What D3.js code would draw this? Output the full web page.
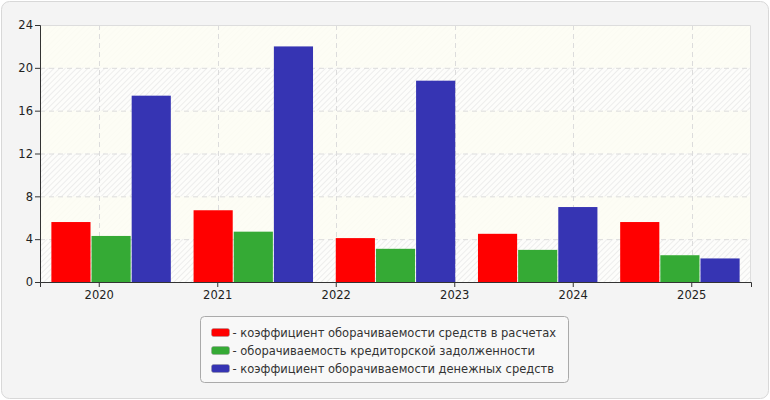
<!DOCTYPE html>
<html>
<head>
<meta charset="utf-8">
<script src="https://cdn.jsdelivr.net/npm/d3@7"></script>
<style>
  body { margin: 0; background: #fff; }
  text { font-family: "DejaVu Sans", Verdana, sans-serif; }
</style>
</head>
<body>
<div id="chart"></div>
<script>
// axis labels (6) and bar groups (5) as they appear in the picture
var years = ["2020", "2021", "2022", "2023", "2024", "2025"];
var groups = ["g1", "g2", "g3", "g4", "g5"];
var seriesNames = [
  "- коэффициент оборачиваемости средств в расчетах",
  "- оборачиваемость кредиторской задолженности",
  "- коэффициент оборачиваемости денежных средств"
];
var seriesColors = ["#ff0000", "#35aa35", "#3634b3"];
var receivables = [5.6, 6.7, 4.1, 4.5, 5.6];
var payables = [4.3, 4.7, 3.1, 3.0, 2.5];
var cash = [17.4, 22.0, 18.8, 7.0, 2.2];
var yTicks = [0, 4, 8, 12, 16, 20, 24];

var series = [receivables, payables, cash];

var W = 770, H = 400;
var margin = {top: 25, right: 19, bottom: 118, left: 40},
    width = W - margin.left - margin.right,
    height = H - margin.top - margin.bottom;

var svg = d3.select("#chart").append("svg")
    .attr("width", W)
    .attr("height", H);

svg.append("rect")
    .attr("x", 1.5).attr("y", 1.5)
    .attr("width", W - 3).attr("height", H - 3)
    .attr("rx", 8)
    .style("fill", "#f4f4f4")
    .style("stroke", "#d8d8d8");

var defs = svg.append("defs");
var pat = defs.append("pattern")
    .attr("id", "hatch")
    .attr("patternUnits", "userSpaceOnUse")
    .attr("width", 4).attr("height", 4)
    .attr("patternTransform", "rotate(45)");
pat.append("rect").attr("width", 4).attr("height", 4).style("fill", "#fdfdfb");
pat.append("line")
    .attr("x1", 0).attr("y1", 0).attr("x2", 0).attr("y2", 4)
    .style("stroke", "#e8e8e8").style("stroke-width", 1.5);

var g = svg.append("g")
    .attr("transform", "translate(" + margin.left + "," + margin.top + ")");

var y = d3.scaleLinear().domain([0, 24]).range([height, 0]);
var xAxisScale = d3.scaleBand().domain(years).range([0, width]);
var x0 = d3.scaleBand().domain(groups).range([0, width])
    .paddingInner(0.16).paddingOuter(0.08);
var x1 = d3.scaleBand().domain([0, 1, 2]).range([0, x0.bandwidth()])
    .paddingInner(0.025);

// plot background: hatched, with alternate cream bands
g.append("rect")
    .attr("width", width).attr("height", height)
    .style("fill", "url(#hatch)");
g.selectAll(".band")
    .data([20, 12, 4])
  .enter().append("rect")
    .attr("class", "band")
    .attr("x", 0)
    .attr("y", function(d) { return y(d + 4); })
    .attr("width", width)
    .attr("height", function(d) { return y(d) - y(d + 4); })
    .style("fill", "#fdfdf3")
    .style("opacity", 0.85);

// grid
g.selectAll(".hgrid")
    .data(yTicks.filter(function(d) { return d > 0 && d < 24; }))
  .enter().append("line")
    .attr("x1", 0).attr("x2", width)
    .attr("y1", function(d) { return y(d) + 0.5; })
    .attr("y2", function(d) { return y(d) + 0.5; })
    .style("stroke", "#dcdcdc")
    .style("stroke-dasharray", "5,4");
g.selectAll(".vgrid")
    .data(years)
  .enter().append("line")
    .attr("x1", function(d) { return Math.round(xAxisScale(d) + xAxisScale.bandwidth() / 2) + 0.5; })
    .attr("x2", function(d) { return Math.round(xAxisScale(d) + xAxisScale.bandwidth() / 2) + 0.5; })
    .attr("y1", 0).attr("y2", height)
    .style("stroke", "#dcdcdc")
    .style("stroke-dasharray", "5,4");

g.append("path")
    .attr("d", "M0,0.5H" + (width - 0.5) + "V" + height)
    .style("fill", "none")
    .style("stroke", "#dddddd");

// bars
var grp = g.selectAll(".grp")
    .data(groups)
  .enter().append("g")
    .attr("class", "grp")
    .attr("transform", function(d) { return "translate(" + x0(d) + ",0)"; });

grp.selectAll("rect")
    .data(function(d, i) { return series.map(function(s, k) { return {k: k, v: s[i]}; }); })
  .enter().append("rect")
    .attr("x", function(d) { return x1(d.k); })
    .attr("y", function(d) { return y(d.v); })
    .attr("width", x1.bandwidth())
    .attr("height", function(d) { return y(0) - y(d.v); })
    .style("fill", function(d) { return seriesColors[d.k]; });

// axes
var yAxis = g.append("g")
    .call(d3.axisLeft(y).tickValues(yTicks).tickSizeOuter(0).tickSize(5));
var xAxis = g.append("g")
    .attr("transform", "translate(0," + height + ")")
    .call(d3.axisBottom(xAxisScale).tickSizeOuter(0).tickSize(5));

[yAxis, xAxis].forEach(function(a) {
  a.attr("font-family", null);
  a.select(".domain").style("stroke", "#333");
  a.selectAll(".tick line").style("stroke", "#333");
  a.selectAll("text")
      .style("font-size", "11.5px")
      .style("fill", "#222");
});
yAxis.selectAll("text").attr("x", -7);
xAxis.selectAll("text").attr("y", 9);

// legend
var legend = svg.append("g")
    .attr("transform", "translate(200.5,316.5)");
legend.append("rect")
    .attr("width", 368).attr("height", 66)
    .attr("rx", 4)
    .style("fill", "#f8f8f8")
    .style("stroke", "#aaaaaa");

var item = legend.selectAll(".item")
    .data(seriesNames)
  .enter().append("g")
    .attr("class", "item")
    .attr("transform", function(d, i) { return "translate(11," + (12 + i * 18) + ")"; });

item.append("rect")
    .attr("width", 18).attr("height", 8)
    .attr("rx", 2)
    .style("fill", function(d, i) { return seriesColors[i]; })
    .style("stroke", "#999")
    .style("stroke-width", 0.5);

item.append("text")
    .attr("x", 21)
    .attr("y", 4)
    .attr("dy", ".35em")
    .style("font-size", "11.5px")
    .style("fill", "#333")
    .text(function(d) { return d; });
</script>
</body>
</html>
